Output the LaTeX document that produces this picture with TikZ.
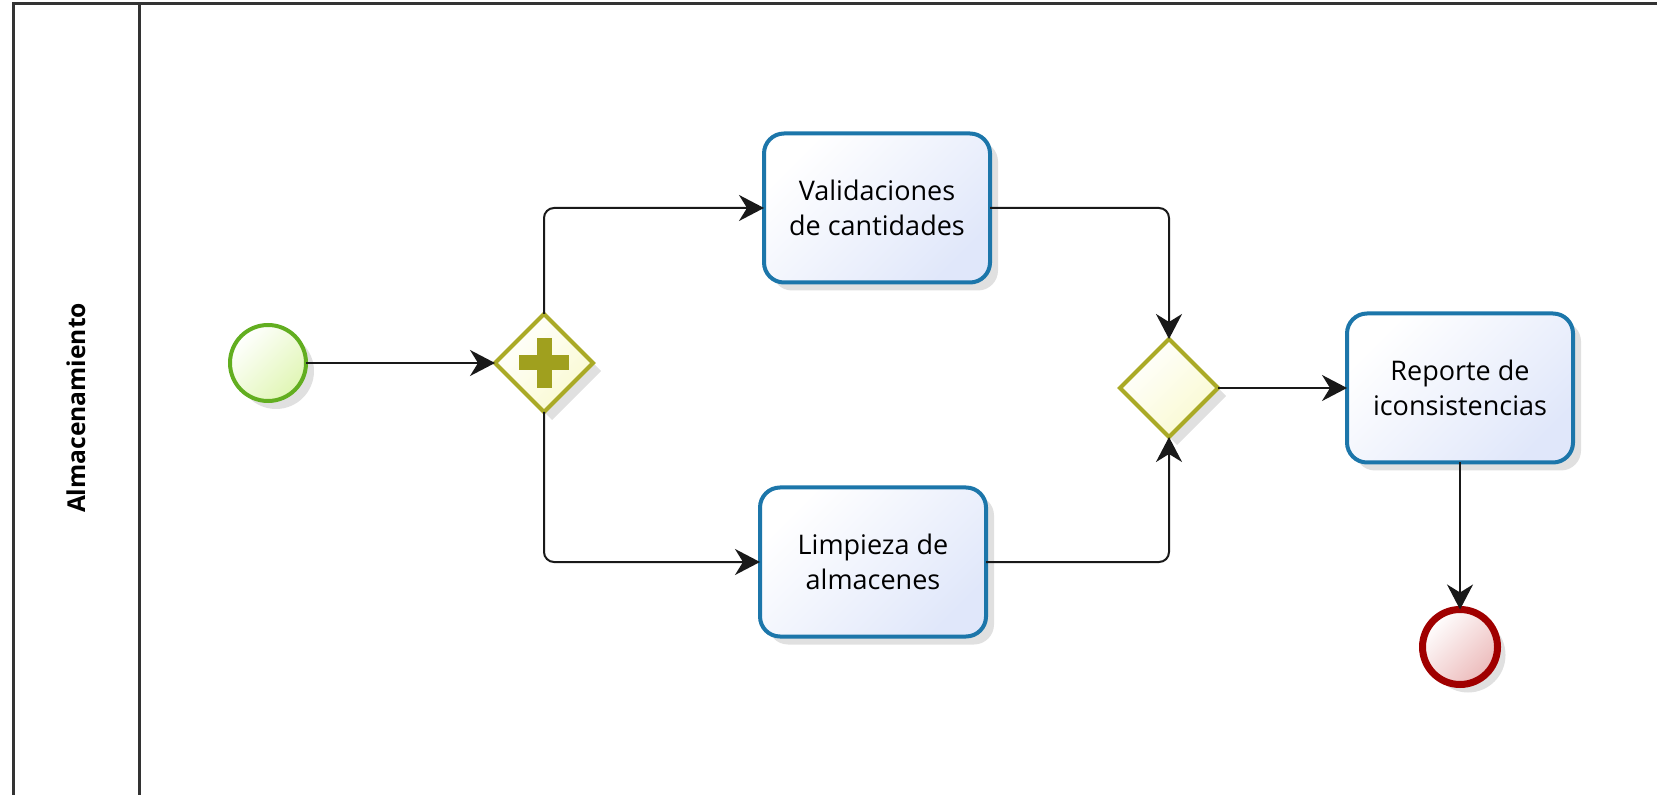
\documentclass[tikz,border=0pt]{standalone}
\usepackage{fontspec}
\setsansfont{Open Sans}
\usetikzlibrary{arrows.meta,shapes.geometric,shadows}

\definecolor{taskline}{RGB}{28,118,170}
\definecolor{taskfill}{RGB}{224,231,250}
\definecolor{gateline}{RGB}{170,170,38}
\definecolor{gatefill}{RGB}{250,250,208}
\definecolor{plusfill}{RGB}{160,160,30}
\definecolor{startline}{RGB}{98,174,32}
\definecolor{startfill}{RGB}{224,246,180}
\definecolor{endline}{RGB}{160,0,0}
\definecolor{endfill}{RGB}{236,186,186}

\tikzset{
  softshadow/.style={drop shadow={shadow xshift=4pt,shadow yshift=-4pt,opacity=0.12,fill=black}},
  task/.style={draw=taskline, line width=2pt, rounded corners=10pt,
    top color=white, bottom color=taskfill, shading angle=45,
    minimum width=113pt, minimum height=74.5pt, outer sep=0pt,
    align=center, font=\sffamily\fontsize{13.5}{17.5}\selectfont, softshadow},
  gateway/.style={diamond, aspect=1, draw=gateline, line width=2pt,
    top color=white, bottom color=gatefill, shading angle=45,
    minimum size=49pt, inner sep=0pt, outer sep=0pt, softshadow},
  event/.style={circle, line width=2pt, minimum size=38pt,
    inner sep=0pt, outer sep=0pt, softshadow},
  startevent/.style={event, draw=startline, top color=white, bottom color=startfill, shading angle=45},
  endevent/.style={event, draw=endline, line width=3.5pt, minimum size=37.5pt,
    top color=white, bottom color=endfill, shading angle=45},
  flow/.style={-{Stealth[length=12.5pt,width=13pt,inset=4pt]}, line width=1pt,
    draw=black!90, rounded corners=5pt},
  pool/.style={line width=1.5pt, draw=black!80}
}

\begin{document}
\begin{tikzpicture}[x=0.5pt,y=-0.5pt]

\useasboundingbox (0,0) rectangle (1657,795);
\clip (0,0) rectangle (1657,795);

% pool and lane
\draw[pool] (13,800) -- (13,4) -- (1700,4);
\draw[pool] (139,4) -- (139,800);
\node[rotate=90, font=\sffamily\bfseries\fontsize{12.3}{14}\selectfont] (lane) at (76,408) {Almacenamiento};

% events, gateways and tasks
\node[startevent] (start) at (268,363) {};
\node[gateway] (fork) at (544,363) {};
\fill[plusfill] (fork.center) ++(-25,-7.5) rectangle ++(50,15);
\fill[plusfill] (fork.center) ++(-7.5,-25) rectangle ++(15,50);

\node[task] (valid) at (877,208) {Validaciones\\de cantidades};
\node[task] (clean) at (873,562) {Limpieza de\\almacenes};

\node[gateway] (join) at (1169,388) {};
\node[task] (report) at (1460,388) {Reporte de\\iconsistencias};
\node[endevent] (end) at (1460,647) {};

% sequence flows
\draw[flow] (start) -- (fork);
\draw[flow] (fork.north) |- (valid);
\draw[flow] (fork.south) |- (clean);
\draw[flow] (valid) -| (join.north);
\draw[flow] (clean) -| (join.south);
\draw[flow] (join) -- (report);
\draw[flow] (report) -- (end);

\end{tikzpicture}
\end{document}
